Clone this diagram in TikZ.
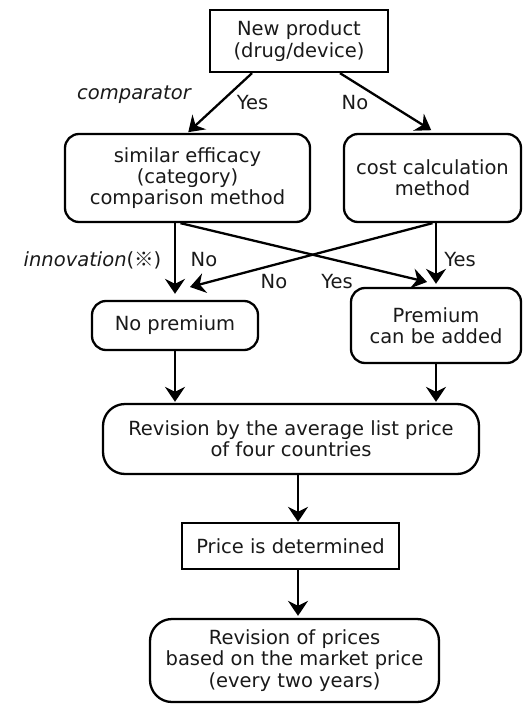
\documentclass[tikz,border=0pt]{standalone}
\usepackage{fontspec}
\setmainfont{DejaVu Sans}
\newfontfamily\cjk{Noto Sans CJK JP}
\usetikzlibrary{arrows.meta}

\begin{document}
\begin{tikzpicture}
[
	x=1pt,y=-1pt,
	every node/.style={font=\fontsize{19.5}{21.3}\selectfont,text=black!90},
	sqbox/.style={draw,line width=2.3pt,align=center,inner sep=0pt},
	rbox/.style={sqbox,rounded corners=14pt},
	lbl/.style={inner sep=0pt},
	arr/.style={line width=2.3pt,-{Stealth[length=15pt,width=20pt,inset=5pt]}}
]

	\useasboundingbox (0,0) rectangle (522,704);

	\node[sqbox,minimum width=178,minimum height=62] at (299,41) (newp) {New product\\(drug/device)};

	\node[rbox,minimum width=245,minimum height=88] at (187.5,178) (sim) {similar efficacy\\(category)\\comparison method};
	\node[rbox,minimum width=177,minimum height=88] at (432.5,178) (cost) {cost calculation\\method};

	\node[rbox,minimum width=166,minimum height=49] at (175,325.5) (nop) {No premium};
	\node[rbox,minimum width=170,minimum height=75] at (436,325.5) (prem) {Premium\\can be added};

	\node[rbox,rounded corners=22pt,minimum width=376,minimum height=70] at (291,439) (rev) {Revision by the average list price\\of four countries};
	\node[sqbox,minimum width=217,minimum height=46] at (290.5,546) (price) {Price is determined};
	\node[rbox,rounded corners=22pt,minimum width=289,minimum height=83] at (294.5,660.5) (revp) {Revision of prices\\based on the market price\\(every two years)};

	\node[lbl] at (134,95) (cmp) {\itshape comparator};
	\node[lbl] at (252.5,103) (y1) {Yes};
	\node[lbl] at (355,103) (n1) {No};
	\node[lbl] at (92.5,260) (inn) {\itshape innovation\upshape(\cjk ※\rmfamily)};
	\node[lbl] at (204,260) (n2) {No};
	\node[lbl] at (274,281.5) (n3) {No};
	\node[lbl] at (337,281.5) (y2) {Yes};
	\node[lbl] at (460,260) (y3) {Yes};

	\coordinate (yesin) at (427,282);
	\coordinate (noin) at (190,287);

	\draw[arr,shorten >=1pt] ([xshift=-47pt]newp.south) -- (sim.north);
	\draw[arr,shorten >=5pt] ([xshift=41pt]newp.south) -- ([xshift=3pt]cost.north);

	\draw[arr,shorten >=6pt] (sim.south -| nop.north) -- (nop.north);
	\draw[arr] ([xshift=-7pt]sim.south) -- (yesin);
	\draw[arr] (cost.south) -- (noin);
	\draw[arr,shorten >=3pt] (cost.south -| prem.north) -- (prem.north);

	\draw[arr,shorten >=1pt] (nop.south) -- (nop.south |- rev.north);
	\draw[arr,shorten >=1pt] (prem.south) -- (prem.south |- rev.north);
	\draw[arr] ([xshift=7pt]rev.south) -- ([xshift=7.5pt]price.north);
	\draw[arr,shorten >=2pt] ([xshift=7.5pt]price.south) -- ([xshift=3.5pt]revp.north);

\end{tikzpicture}
\end{document}
